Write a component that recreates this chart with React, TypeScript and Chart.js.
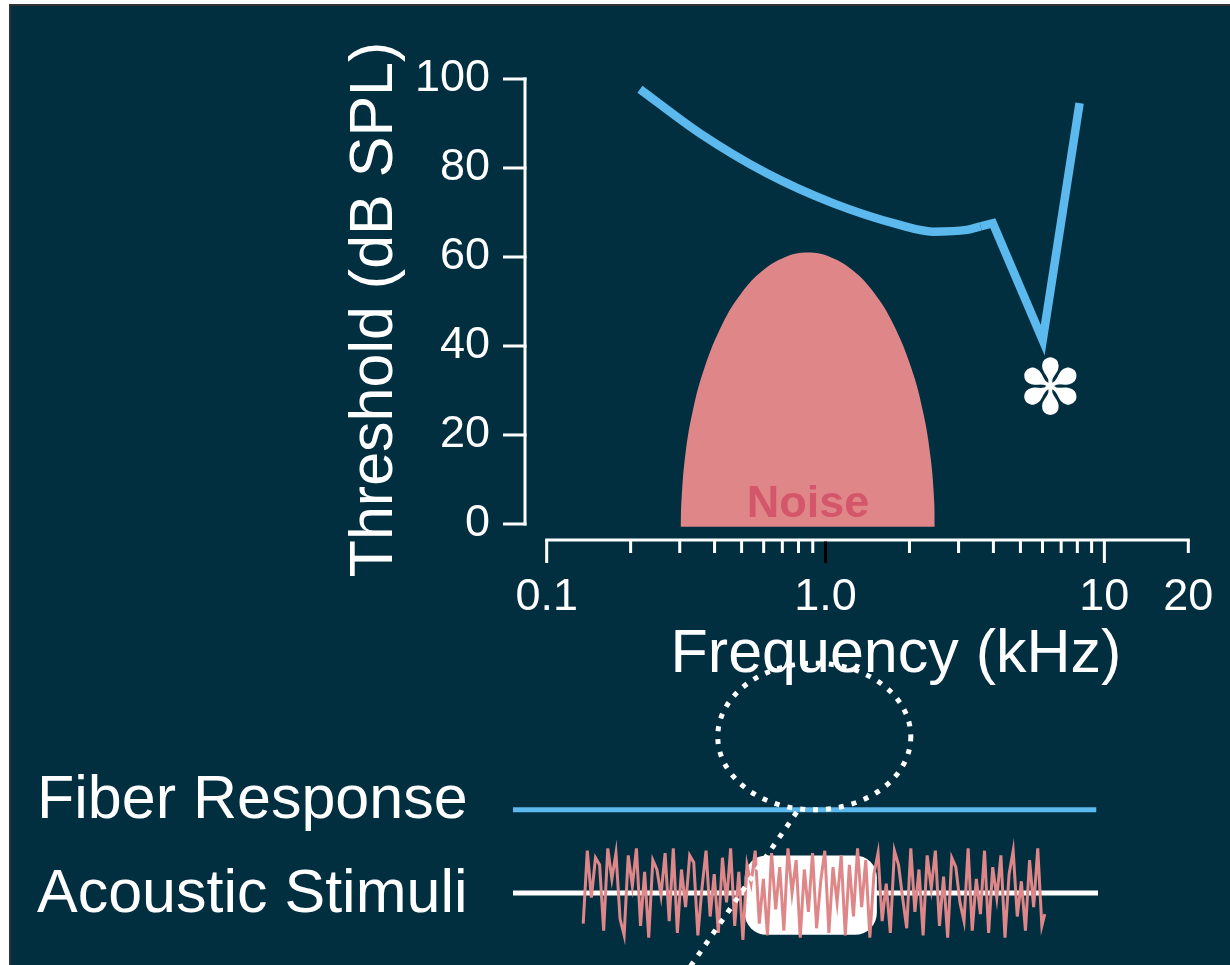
import React, { useEffect, useRef } from 'react';
import { Chart, registerables } from 'chart.js';

Chart.register(...registerables);

const FONT = '"Liberation Sans", Arial, Helvetica, sans-serif';
const STAR_FONT = '"DejaVu Sans", sans-serif';
const BG = '#022f40';
const BLUE = '#5bb9ee';
const PINK = '#df8788';
const NOISE_TEXT = '#d4566a';

// ---------- Top panel data (frequency in kHz, level in dB SPL) ----------
const curveFreq = [0.216, 0.354, 0.616, 1.062, 1.846, 2.424, 3.21, 3.6];
const curveDb = [97.7, 87.8, 78.8, 72.1, 67.2, 65.7, 66.1, 66.9];
const notchFreq = [3.6, 3.98, 6.01, 8.15];
const notchDb = [66.9, 67.6, 41.3, 94.6];

const noiseFreq = [
  0.302, 0.3042, 0.3134, 0.333, 0.3675, 0.4274, 0.5012, 0.597, 0.7184, 0.8641,
  1.0394, 1.2507, 1.49, 1.747, 2.032, 2.241, 2.381, 2.455, 2.465,
];
const noiseDb = [-0.6, 5, 15, 25, 35, 45, 52, 57, 60, 61, 60, 57, 52, 45, 35, 25, 15, 5, -0.6];

const xTicks = [0.1, 1, 10, 20];
const xTickLabels = ['0.1', '1.0', '10', '20'];
const xMinorTicks = [0.2, 0.3, 0.4, 0.5, 0.6, 0.7, 0.8, 0.9, 2, 3, 4, 5, 6, 7, 8, 9, 20];
const yTicks = [0, 20, 40, 60, 80, 100];

const noiseLabelAt = { f: 0.866, db: 1.6 };
const asteriskAt = { f: 6.42, db: 31 };

// ---------- Bottom panel data (time in % of sweep, amplitude in a.u.) ----------
const fiberLevel = 1.77;
const fiberTimes = [0, 99.7];
const baselineTimes = [0, 100];
const toneStart = 39.6;
const toneEnd = 62.2;
const toneTop = 0.8;
const toneBottom = -0.89;

const noiseTime = [
  12.0, 12.7, 13.4, 14.1, 14.8, 15.5, 16.2, 16.9, 17.6, 18.3, 19.0, 19.7, 20.4, 21.1, 21.8, 22.5,
  23.2, 23.9, 24.6, 25.3, 26.0, 26.7, 27.4, 28.1, 28.8, 29.5, 30.2, 30.9, 31.6, 32.3, 33.0, 33.7,
  34.4, 35.1, 35.8, 36.5, 37.2, 37.9, 38.6, 39.3, 40.0, 40.7, 41.4, 42.1, 42.8, 43.5, 44.2, 44.9,
  45.6, 46.3, 47.0, 47.7, 48.4, 49.1, 49.8, 50.5, 51.2, 51.9, 52.6, 53.3, 54.0, 54.7, 55.4, 56.1,
  56.8, 57.5, 58.2, 58.9, 59.6, 60.3, 61.0, 61.7, 62.4, 63.1, 63.8, 64.5, 65.2, 65.9, 66.6, 67.3,
  68.0, 68.7, 69.4, 70.1, 70.8, 71.5, 72.2, 72.9, 73.6, 74.3, 75.0, 75.7, 76.4, 77.1, 77.8, 78.5,
  79.2, 79.9, 80.6, 81.3, 82.0, 82.7, 83.4, 84.1, 84.8, 85.5, 86.2, 86.9, 87.6, 88.3, 89.0, 89.7,
  90.4, 90.9,
];
const noiseAmp = [
  -0.65, 0.9, -0.1, 0.75, 0.6, -0.8, 0.95, 0.3, 0.85, -0.55, -0.9, 0.8, 0.15, 0.95, -0.7, 0.45,
  -0.95, 0.7, 0.5, -0.05, 0.85, -0.6, 0.95, -0.85, 0.5, -0.3, 0.8, 0.65, -0.9, 0.1, 0.9, -0.5,
  0.4, -0.85, 0.75, -0.2, 0.95, -0.7, 0.45, -1.0, 0.6, 0.2, 0.9, -0.65, 0.3, -0.9, 0.85, -0.35,
  0.55, -0.8, 0.95, 0.0, 0.7, -0.95, 0.5, -0.4, 0.85, -0.75, 0.25, 0.9, -0.85, 0.55, -0.2, 0.8,
  -0.9, 0.6, -0.5, 0.95, -0.3, 0.7, -0.95, 0.4, 0.85, -0.6, 0.2, -0.85, 0.9, 0.6, -0.1, -0.75,
  0.95, -0.4, 0.5, -0.9, 0.8, 0.1, 0.9, -0.7, 0.35, -0.95, 0.75, 0.55, -0.2, -0.6, 0.95, -0.8,
  0.3, -0.45, 0.9, -0.85, 0.55, -0.1, 0.8, -0.95, 0.4, 0.9, -0.5, 0.25, -0.8, 0.7, -0.3, 0.95,
  -0.7, -0.45,
];

const ellipse = { t: 51.5, v: 3.33, rt: 16.5, rv: 1.56 };
const connectorTimes = [48.5, 29.9];
const connectorAmps = [1.72, -1.64];

const zip = (xs: number[], ys: number[]) => {
  const n = Math.min(xs.length, ys.length);
  const out: { x: number; y: number }[] = [];
  for (let i = 0; i < n; i++) out.push({ x: xs[i], y: ys[i] });
  return out;
};

// ---------- Plugins ----------
const topPlugin = {
  id: 'topDecor',
  afterDatasetsDraw(chart: any) {
    const { ctx, scales } = chart;
    const x = scales.x;
    const y = scales.y;
    ctx.save();
    // "Noise" label
    ctx.font = `bold 45px ${FONT}`;
    ctx.fillStyle = NOISE_TEXT;
    ctx.textAlign = 'center';
    ctx.textBaseline = 'alphabetic';
    ctx.fillText('Noise', x.getPixelForValue(noiseLabelAt.f), y.getPixelForValue(noiseLabelAt.db));

    // asterisk
    const star = '\u273D';
    ctx.textAlign = 'left';
    ctx.textBaseline = 'alphabetic';
    ctx.font = `100px ${STAR_FONT}`;
    const m0 = ctx.measureText(star);
    const h0 = m0.actualBoundingBoxAscent + m0.actualBoundingBoxDescent || 70;
    const size = (100 * 59) / h0;
    ctx.font = `${size}px ${STAR_FONT}`;
    const m = ctx.measureText(star);
    const cx = x.getPixelForValue(asteriskAt.f);
    const cy = y.getPixelForValue(asteriskAt.db);
    ctx.fillStyle = '#ffffff';
    const px = cx - (m.actualBoundingBoxRight - m.actualBoundingBoxLeft) / 2;
    const py = cy + (m.actualBoundingBoxAscent - m.actualBoundingBoxDescent) / 2;
    ctx.fillText(star, px, py);
    ctx.restore();
  },
  afterDraw(chart: any) {
    const { ctx, chartArea, scales } = chart;
    const x = scales.x;
    const y = scales.y;
    const ax = chartArea.left;
    const ay = chartArea.bottom;
    ctx.save();
    ctx.strokeStyle = '#ffffff';
    ctx.lineWidth = 3;
    ctx.lineCap = 'butt';
    // y axis
    ctx.beginPath();
    ctx.moveTo(ax, y.getPixelForValue(100) - 1.5);
    ctx.lineTo(ax, y.getPixelForValue(0) + 1.5);
    ctx.stroke();
    yTicks.forEach((v) => {
      const py = y.getPixelForValue(v);
      ctx.beginPath();
      ctx.moveTo(ax - 22, py);
      ctx.lineTo(ax + 1.5, py);
      ctx.stroke();
    });
    // x axis
    ctx.beginPath();
    ctx.moveTo(x.getPixelForValue(0.1) - 1.5, ay);
    ctx.lineTo(x.getPixelForValue(20) + 1.5, ay);
    ctx.stroke();
    xMinorTicks.forEach((v) => {
      const p = x.getPixelForValue(v);
      ctx.beginPath();
      ctx.moveTo(p, ay);
      ctx.lineTo(p, ay + 13);
      ctx.stroke();
    });
    [0.1, 10].forEach((v) => {
      const p = x.getPixelForValue(v);
      ctx.beginPath();
      ctx.moveTo(p, ay);
      ctx.lineTo(p, ay + 23);
      ctx.stroke();
    });
    ctx.strokeStyle = '#000000';
    const p1 = x.getPixelForValue(1);
    ctx.beginPath();
    ctx.moveTo(p1, ay + 1.5);
    ctx.lineTo(p1, ay + 23);
    ctx.stroke();

    // axis titles
    ctx.fillStyle = '#ffffff';
    ctx.font = `61px ${FONT}`;
    ctx.textAlign = 'center';
    ctx.textBaseline = 'alphabetic';
    ctx.fillText('Frequency (kHz)', ax + 371, ay + 132);
    ctx.save();
    ctx.translate(ax - 133, (chartArea.top + chartArea.bottom) / 2);
    ctx.rotate(-Math.PI / 2);
    ctx.fillText('Threshold (dB SPL)', 0, 0);
    ctx.restore();
    ctx.restore();
  },
};

const bottomPlugin = {
  id: 'bottomDecor',
  beforeDatasetsDraw(chart: any) {
    const { ctx, scales } = chart;
    const x = scales.x;
    const y = scales.y;
    const l = x.getPixelForValue(toneStart);
    const r = x.getPixelForValue(toneEnd);
    const t = y.getPixelForValue(toneTop);
    const b = y.getPixelForValue(toneBottom);
    ctx.save();
    ctx.fillStyle = '#ffffff';
    ctx.beginPath();
    (ctx as any).roundRect(l, t, r - l, b - t, 22);
    ctx.fill();
    ctx.restore();
  },
  afterDraw(chart: any) {
    const { ctx, scales } = chart;
    const x = scales.x;
    const y = scales.y;
    ctx.save();
    // dotted ellipse
    const cx = x.getPixelForValue(ellipse.t);
    const cy = y.getPixelForValue(ellipse.v);
    const rx = x.getPixelForValue(ellipse.t + ellipse.rt) - cx;
    const ry = cy - y.getPixelForValue(ellipse.v + ellipse.rv);
    ctx.strokeStyle = '#ffffff';
    ctx.lineWidth = 5;
    ctx.setLineDash([5, 8]);
    ctx.beginPath();
    ctx.ellipse(cx, cy, rx, ry, 0, 0, Math.PI * 2);
    ctx.stroke();
    ctx.setLineDash([]);
    // row labels
    ctx.fillStyle = '#ffffff';
    ctx.font = `61px ${FONT}`;
    ctx.textAlign = 'left';
    ctx.textBaseline = 'alphabetic';
    ctx.fillText('Fiber Response', 37, y.getPixelForValue(fiberLevel) + 8);
    ctx.fillText('Acoustic Stimuli', 37, y.getPixelForValue(0) + 19);
    ctx.restore();
  },
};

export default function App() {
  const topRef = useRef<HTMLCanvasElement>(null);
  const bottomRef = useRef<HTMLCanvasElement>(null);

  useEffect(() => {
    Chart.defaults.font.family = FONT;
    const top = new Chart(topRef.current as HTMLCanvasElement, {
      type: 'line',
      data: {
        datasets: [
          {
            label: 'Threshold notch',
            data: zip(notchFreq, notchDb),
            borderColor: BLUE,
            borderWidth: 8.5,
            borderCapStyle: 'butt',
            borderJoinStyle: 'miter',
            pointRadius: 0,
            tension: 0,
            fill: false,
            order: 0,
          },
          {
            label: 'Threshold',
            data: zip(curveFreq, curveDb),
            borderColor: BLUE,
            borderWidth: 8.5,
            borderCapStyle: 'butt',
            pointRadius: 0,
            cubicInterpolationMode: 'monotone',
            fill: false,
            order: 1,
          },
          {
            label: 'Noise',
            data: zip(noiseFreq, noiseDb),
            borderWidth: 0,
            borderColor: 'rgba(0,0,0,0)',
            backgroundColor: PINK,
            pointRadius: 0,
            tension: 0.4,
            fill: { value: -0.6 },
            order: 2,
          },
        ],
      },
      options: {
        responsive: false,
        animation: false,
        events: [],
        layout: { padding: { left: 345, right: 41.7, top: 79, bottom: 60 } },
        plugins: { legend: { display: false }, tooltip: { enabled: false } },
        scales: {
          x: {
            type: 'logarithmic',
            min: 0.0836,
            max: 20,
            afterBuildTicks: (s: any) => {
              s.ticks = xTicks.map((v) => ({ value: v }));
            },
            afterFit: (s: any) => {
              s.height = 100;
              s.paddingLeft = 0;
              s.paddingRight = 0;
            },
            grid: { display: false, drawTicks: false },
            border: { display: false },
            ticks: {
              color: '#ffffff',
              font: { family: FONT, size: 45 },
              padding: 31,
              maxRotation: 0,
              autoSkip: false,
              callback: (_v: any, i: number) => xTickLabels[i],
            },
          },
          y: {
            type: 'linear',
            min: -3.6,
            max: 100,
            afterBuildTicks: (s: any) => {
              s.ticks = yTicks.map((v) => ({ value: v }));
            },
            afterFit: (s: any) => {
              s.width = 180;
              s.paddingTop = 0;
              s.paddingBottom = 0;
            },
            grid: { display: false, drawTicks: false },
            border: { display: false },
            ticks: {
              color: '#ffffff',
              font: { family: FONT, size: 45 },
              padding: 35,
              autoSkip: false,
              callback: (v: any) => String(v),
            },
          },
        },
      },
      plugins: [topPlugin],
    } as any);

    const bottom = new Chart(bottomRef.current as HTMLCanvasElement, {
      type: 'line',
      data: {
        datasets: [
          {
            label: 'Connector',
            data: zip(connectorTimes, connectorAmps),
            borderColor: '#ffffff',
            borderWidth: 5,
            borderDash: [5, 8],
            borderCapStyle: 'butt',
            pointRadius: 0,
            clip: false,
            order: 0,
          },
          {
            label: 'Fiber Response',
            data: zip(fiberTimes, [fiberLevel, fiberLevel]),
            borderColor: BLUE,
            borderWidth: 5,
            pointRadius: 0,
            order: 1,
          },
          {
            label: 'Noise stimulus',
            data: zip(noiseTime, noiseAmp),
            borderColor: PINK,
            borderWidth: 3,
            borderJoinStyle: 'miter',
            pointRadius: 0,
            tension: 0,
            order: 2,
          },
          {
            label: 'Baseline',
            data: zip(baselineTimes, [0, 0]),
            borderColor: '#ffffff',
            borderWidth: 5,
            pointRadius: 0,
            order: 3,
          },
        ],
      },
      options: {
        responsive: false,
        animation: false,
        events: [],
        layout: { padding: { left: 513, right: 132, top: 18, bottom: 1.5 } },
        plugins: { legend: { display: false }, tooltip: { enabled: false } },
        scales: {
          x: { type: 'linear', min: 0, max: 100, display: false },
          y: { type: 'linear', min: -1.5, max: 5, display: false },
        },
      },
      plugins: [bottomPlugin],
    } as any);

    return () => {
      top.destroy();
      bottom.destroy();
    };
  }, []);

  return (
    <div
      style={{
        position: 'fixed',
        left: 0,
        top: 0,
        width: 1230,
        height: 965,
        overflow: 'hidden',
        background: '#ffffff',
      }}
    >
      <div
        style={{
          position: 'absolute',
          left: 9,
          top: 4,
          width: 1221,
          height: 961,
          boxSizing: 'border-box',
          borderLeft: '2px solid #333333',
          borderTop: '2px solid #333333',
          background: BG,
        }}
      />
      <canvas
        ref={topRef}
        width={1230}
        height={700}
        style={{ position: 'absolute', left: 0, top: 0, width: 1230, height: 700, display: 'block' }}
      />
      <canvas
        ref={bottomRef}
        width={1230}
        height={325}
        style={{ position: 'absolute', left: 0, top: 640, width: 1230, height: 325, display: 'block' }}
      />
    </div>
  );
}
